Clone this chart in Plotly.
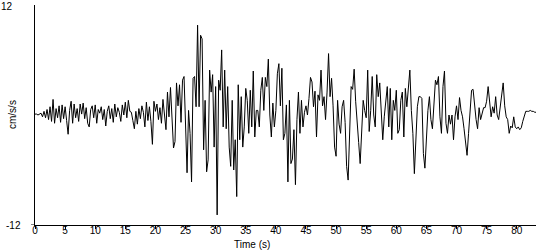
import numpy as np
import plotly.graph_objects as go

dt = 0.25
accel = [
    0.1, 0.1, 0.0, 0.1,
    0.2, -0.2, 0.4, -0.3,
    0.6, -0.5, 0.9, -0.7,
    1.7, -0.9, 0.7, -0.3,
    1.0, -0.8, 1.1, -0.4,
    0.9, -0.6, -2.1, 0.5,
    1.5, -0.9, 1.2, -0.3,
    0.7, -0.7, 1.2, 0.1,
    1.3, -0.4, 0.8, -0.9,
    -1.3, 0.6, 1.0, -0.3,
    1.1, -0.9, 0.6, 0.2,
    0.9, -0.5, 0.6, -1.2,
    0.4, 1.0, -0.4, 0.7,
    -0.8, 1.2, -0.2, 0.8,
    0.3, -0.7, 1.1, 0.0,
    1.4, -0.3, 1.6, 0.4,
    0.3, -0.6, -1.5, 0.4,
    -1.0, 0.7, -0.4, 1.0,
    0.3, -1.3, 1.4, -0.6,
    0.9, -0.7, -3.2, 1.5,
    0.4, 1.2, -0.5, 0.8,
    -0.9, 1.7, -0.3, -1.6,
    2.5, -0.2, 3.0, -1.3,
    -3.6, -2.9, 3.5, 1.0,
    3.3, -0.8, 3.8, 4.2,
    -1.1, -6.3, 0.5, -2.0,
    -7.3, 4.0, 4.2, 0.9,
    9.8, 0.9, 8.7, 8.3,
    -3.8, 1.6, -6.2, -4.9,
    4.9, 2.5, 4.4, -3.5,
    3.1, -10.9, 3.8, 2.7,
    7.1, -1.3, 4.9, -1.5,
    3.1, -3.5, -5.6, 1.6,
    -6.0, -2.7, -8.9, 3.3,
    -2.7, 2.0, -3.5, -1.3,
    2.9, 1.6, -2.0, 2.7,
    -1.3, 4.8, -2.4, 0.5,
    0.5, -1.3, 2.7, 4.1,
    0.5, 4.1, 3.1, 6.1,
    0.0, -2.4, 1.3, -1.3,
    0.5, 4.5, 5.6, 1.0,
    5.1, -2.7, -2.0, 1.1,
    -7.3, 1.6, -5.3, -4.8,
    -1.6, -7.6, -0.5, 2.5,
    -2.0, 1.6, -1.3, 0.3,
    1.0, 0.0, 1.8, 4.1,
    3.6, 0.9, 2.6, -2.4,
    2.2, 1.6, 4.9, 1.0,
    2.0, -0.5, 2.5, 6.7,
    2.0, 4.0, 1.0, -3.5,
    -4.5, 1.6, -1.0, -2.0,
    0.9, 1.6, -0.8, -5.6,
    -7.1, -1.0, 3.1, 2.8,
    5.0, 1.5, -1.5, -3.0,
    -5.3, -2.0, 1.6, 0.5,
    -0.3, 4.9, -1.8, 0.5,
    4.2, 0.0, -1.3, 4.4,
    2.0, 3.5, -0.5, -2.7,
    -0.2, 1.6, 3.1, -1.3,
    2.9, -2.7, 1.6, 0.5,
    2.7, -2.0, -1.6, 1.6,
    2.5, -2.4, 2.9, 0.9,
    2.7, 4.9, 0.5, -2.0,
    -6.4, -2.7, 0.9, 2.0,
    2.0, 1.8, -4.2, -5.8,
    -2.7, 0.5, 2.0, -0.5,
    -1.5, 1.6, 3.8, 3.3,
    4.2, -0.2, -2.0, 3.1,
    4.8, -0.9, -2.0, 0.0,
    -1.0, 0.0, -2.7, -0.2,
    1.0, -0.5, 1.9, 0.5,
    -0.2, -1.5, -3.1, -4.4,
    -2.0, 1.0, 2.7, 2.8,
    1.0, -0.5, -1.5, 0.8,
    -0.5, 0.3, 0.8, 0.8,
    1.5, 3.1, 1.3, -0.2,
    0.9, 0.2, 2.0, 0.0,
    -0.5, 1.0, 2.4, 3.5,
    1.0, -0.2, -0.5, -2.0,
    -1.2, -1.4, -0.2, -1.3,
    -1.5, -1.3, -1.6, -1.4,
    -0.7, -0.2, 0.4, 0.4,
    0.4, 0.5, 0.4, 0.4,
    0.3, 0.3,
]
time = np.arange(len(accel)) * dt

x_ticks = list(range(0, 85, 5))
y_min, y_max = -12, 12

FONT = "Liberation Sans"

fig = go.Figure(
    go.Scatter(
        x=time, y=accel, mode="lines",
        line=dict(color="black", width=1),
        hoverinfo="skip",
    )
)

fig.update_layout(
    width=550, height=250,
    margin=dict(l=35, r=14, t=5, b=25),
    paper_bgcolor="white", plot_bgcolor="white",
    showlegend=False,
    font=dict(family=FONT, size=10, color="black"),
)

fig.update_xaxes(
    range=[0, 83.2],
    tickvals=x_ticks,
    ticktext=[str(v) for v in x_ticks],
    ticks="outside", ticklen=3, tickwidth=1, tickcolor="black",
    ticklabelstandoff=-7,
    showline=True, linecolor="black", linewidth=1,
    showgrid=False, zeroline=False,
    tickfont=dict(family=FONT, size=10),
)
fig.update_yaxes(
    range=[y_min, y_max],
    showticklabels=False, ticks="",
    showline=True, linecolor="black", linewidth=1,
    showgrid=False, zeroline=False,
)

# y-axis end labels
fig.add_annotation(
    text=str(y_max), xref="paper", yref="y", x=0, y=y_max,
    xshift=-20, yshift=-1, xanchor="right", yanchor="middle",
    showarrow=False, font=dict(family=FONT, size=10),
)
fig.add_annotation(
    text=str(y_min), xref="paper", yref="y", x=0, y=y_min,
    xshift=-12, xanchor="right", yanchor="middle",
    showarrow=False, font=dict(family=FONT, size=10),
)
# short tick at the bottom-left
fig.add_shape(
    type="line", xref="paper", yref="y", x0=-0.008, x1=0, y0=y_min, y1=y_min,
    line=dict(color="black", width=1),
)

fig.add_annotation(
    text="Time (s)", xref="paper", yref="paper",
    x=0.434, y=0, yshift=-19, xanchor="center", yanchor="middle",
    showarrow=False, font=dict(family=FONT, size=10),
)
fig.add_annotation(
    text="cm/s/s", xref="paper", yref="paper",
    x=0, xshift=-23, y=0.5, textangle=-90,
    xanchor="center", yanchor="middle",
    showarrow=False, font=dict(family=FONT, size=10),
)

fig.write_html("out.html")
